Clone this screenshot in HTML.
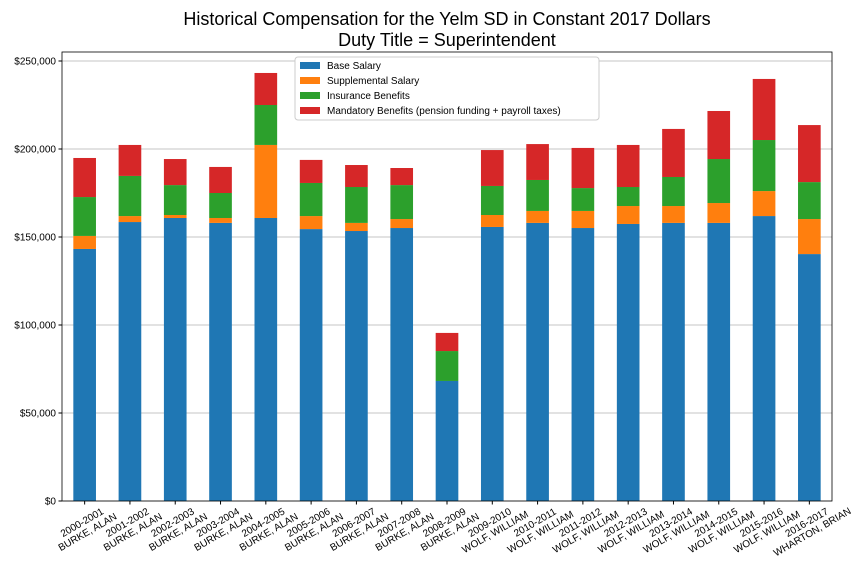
<!DOCTYPE html>
<html><head><meta charset="utf-8"><style>
html,body{margin:0;padding:0;background:#fff;}
svg{display:block;font-family:"Liberation Sans","DejaVu Sans",sans-serif;}
</style></head><body>
<svg id="chart" width="864" height="576" viewBox="0 0 864 576">
<text x="447" y="25" font-size="18" text-anchor="middle">Historical Compensation for the Yelm SD in Constant 2017 Dollars</text>
<text x="447" y="46" font-size="18" text-anchor="middle">Duty Title = Superintendent</text>
<g id="grid"></g><g id="bars"></g><g id="axes"></g><g id="legend"></g>
</svg>
<script>
const years=["2000-2001","2001-2002","2002-2003","2003-2004","2004-2005","2005-2006","2006-2007","2007-2008","2008-2009","2009-2010","2010-2011","2011-2012","2012-2013","2013-2014","2014-2015","2015-2016","2016-2017"];
const names=["BURKE, ALAN","BURKE, ALAN","BURKE, ALAN","BURKE, ALAN","BURKE, ALAN","BURKE, ALAN","BURKE, ALAN","BURKE, ALAN","BURKE, ALAN","WOLF, WILLIAM","WOLF, WILLIAM","WOLF, WILLIAM","WOLF, WILLIAM","WOLF, WILLIAM","WOLF, WILLIAM","WOLF, WILLIAM","WHARTON, BRIAN"];
const baseSalary=[143200,158500,160800,158000,160800,154500,153400,155100,68200,155700,158000,155100,157400,158000,158000,161900,140300];
const supplemental=[7400,3400,1700,2800,41500,7400,4600,5100,0,6800,6800,9700,10200,9600,11300,14200,19900];
const insurance=[22100,22800,17000,14200,22700,18800,20400,19300,17000,16500,17600,13000,10800,16500,25000,29000,21000];
const mandatory=[22200,17600,14800,14800,18200,13100,12500,9700,10300,20400,20400,22800,23900,27300,27300,34700,32400];
const yTicks=[0,50000,100000,150000,200000,250000];
const seriesNames=["Base Salary","Supplemental Salary","Insurance Benefits","Mandatory Benefits (pension funding + payroll taxes)"];
const colors=["#1f77b4","#ff7f0e","#2ca02c","#d62728"];
const NS="http://www.w3.org/2000/svg";
const L=62,R=832,T=52,B=501,yMax=250000*(501-52)/440;
const band=(R-L)/years.length;
function xC(i){return L+band*(i+0.5);}
function yS(v){return B-v/yMax*(B-T);}
function mk(tag,attrs,parent){const e=document.createElementNS(NS,tag);for(const k in attrs)e.setAttribute(k,attrs[k]);parent.appendChild(e);return e;}
const grid=document.getElementById('grid'),bars=document.getElementById('bars'),axes=document.getElementById('axes'),legend=document.getElementById('legend');
yTicks.forEach(v=>{
 const g=mk('line',{x1:L,x2:R,y1:yS(v),y2:yS(v),stroke:'#b0b0b0','stroke-width':0.8},grid);
 
 
 mk('line',{x1:L-3.5,x2:L,y1:yS(v),y2:yS(v),stroke:'#000'},axes);
 const lb=mk('text',{x:L-6,y:yS(v)+3.5,'font-size':10,'text-anchor':'end'},axes);
 lb.textContent='$'+v.toLocaleString('en-US');
 
 
});
const series=[baseSalary,supplemental,insurance,mandatory];
years.forEach((y,i)=>{
 let acc=0;
 series.forEach((s,k)=>{
  const v=s[i];
  const r=mk('rect',{x:xC(i)-band*0.25,width:band*0.5,y:yS(acc+v),height:yS(acc)-yS(acc+v),fill:colors[k]},bars);
  
  
  acc+=v;
 });
 mk('line',{x1:xC(i),x2:xC(i),y1:B,y2:B+3.5,stroke:'#000'},axes);
 const tx=xC(i),ty=B+26;
 const lb=mk('text',{'font-size':10,'text-anchor':'middle',transform:`translate(${tx},${ty}) rotate(-30)`},axes);
 
 
 const a=mk('tspan',{x:0,y:-2},lb);a.textContent=y;
 const b=mk('tspan',{x:0,dy:11},lb);b.textContent=names[i];
});
const frame=mk('rect',{x:L,y:T,width:R-L,height:B-T,fill:'none',stroke:'#000','stroke-width':0.8},axes);


const lbox=mk('rect',{x:295,y:57,width:304,height:63,fill:'#fff',stroke:'#ccc',rx:3},legend);


seriesNames.forEach((n,k)=>{
 const yy=65+k*15;
 mk('rect',{x:300,y:yy-3,width:20,height:7,fill:colors[k]},legend);
 const t=mk('text',{x:327,y:yy+4,'font-size':10},legend);
 t.textContent=n;
 
 
});
</script>
</body></html>
